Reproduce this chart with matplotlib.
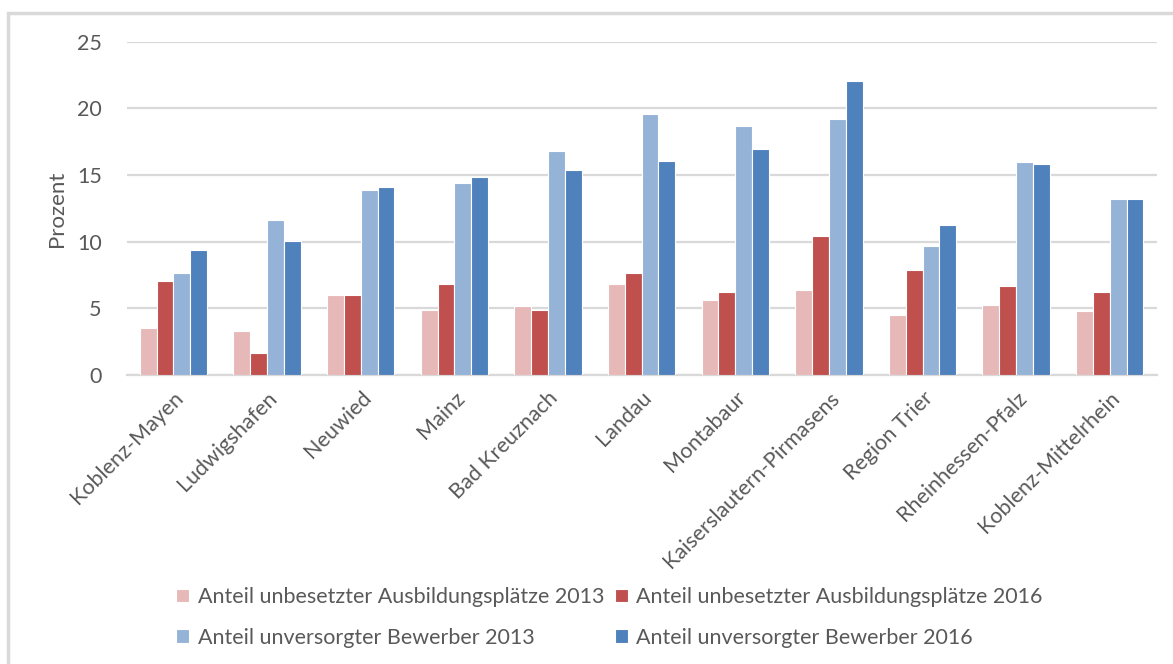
import numpy as np
import matplotlib
matplotlib.use("Agg")
import matplotlib.pyplot as plt
from matplotlib.patches import Rectangle

plt.rcParams['font.family'] = ['Lato', 'DejaVu Sans']

regionen = ["Koblenz-Mayen", "Ludwigshafen", "Neuwied", "Mainz", "Bad Kreuznach",
            "Landau", "Montabaur", "Kaiserslautern-Pirmasens", "Region Trier",
            "Rheinhessen-Pfalz", "Koblenz-Mittelrhein"]

plaetze_2013 = [3.55, 3.28, 6.0, 4.9, 5.15, 6.8, 5.65, 6.4, 4.5, 5.25, 4.8]
plaetze_2016 = [7.08, 1.68, 6.0, 6.8, 4.9, 7.65, 6.2, 10.4, 7.85, 6.7, 6.2]
bewerber_2013 = [7.65, 11.6, 13.9, 14.4, 16.8, 19.6, 18.65, 19.2, 9.65, 15.98, 13.22]
bewerber_2016 = [9.37, 10.03, 14.1, 14.85, 15.42, 16.08, 16.95, 22.05, 11.24, 15.8, 13.22]

serien = [
    ("Anteil unbesetzter Ausbildungsplätze 2013", plaetze_2013, "#E6B9B8"),
    ("Anteil unbesetzter Ausbildungsplätze 2016", plaetze_2016, "#C0504D"),
    ("Anteil unversorgter Bewerber 2013", bewerber_2013, "#95B3D7"),
    ("Anteil unversorgter Bewerber 2016", bewerber_2016, "#4F81BD"),
]

fig = plt.figure(figsize=(11.73, 6.64), dpi=100)
ax = fig.add_axes([0.108, 0.435, 0.878, 0.502])

# rahmen ums diagramm (rechts/unten abgeschnitten)
fig.patches.append(Rectangle((8 / 1173, -0.1), 1.2, 1 - 13 / 664 + 0.1,
                             transform=fig.transFigure, fill=False,
                             edgecolor="#D9D9D9", linewidth=2.5, zorder=0))

x = np.arange(len(regionen))
breite = 0.18
for i, (name, werte, farbe) in enumerate(serien):
    ax.bar(x + (i - 1.5) * breite, werte, width=breite, color=farbe,
           edgecolor="white", linewidth=0.8, label=name, zorder=3)

ax.set_xlim(-0.5, len(regionen) - 0.5)
ax.set_ylim(0, 25)
ax.set_yticks([0, 5, 10, 15, 20, 25])
ax.yaxis.grid(True, color="#D9D9D9", linewidth=1.6, zorder=0)
for s in ["top", "right", "left"]:
    ax.spines[s].set_visible(False)
ax.spines["bottom"].set_color("#D9D9D9")
ax.spines["bottom"].set_linewidth(1.6)
ax.tick_params(axis="both", length=0, colors="#595959", labelsize=15.5)
ax.tick_params(axis="y", pad=18)
ax.set_xticks(x)
ax.set_xticklabels(regionen, rotation=45, ha="right", rotation_mode="anchor")
ax.tick_params(axis="x", pad=9)
ax.set_ylabel("Prozent", fontsize=16, color="#595959", labelpad=7)

# legende zeilenweise wie im original
h, l = ax.get_legend_handles_labels()
reihenfolge = [0, 2, 1, 3]
ax.legend([h[i] for i in reihenfolge], [l[i] for i in reihenfolge],
          loc="upper left", bbox_to_anchor=(0.141, 0.132), bbox_transform=fig.transFigure,
          ncol=2, frameon=False, fontsize=15.5, labelcolor="#595959", borderpad=0,
          handlelength=0.6, handleheight=0.6, handletextpad=0.4,
          columnspacing=0.5, labelspacing=0.95)

fig.savefig("out.png", dpi=100)
